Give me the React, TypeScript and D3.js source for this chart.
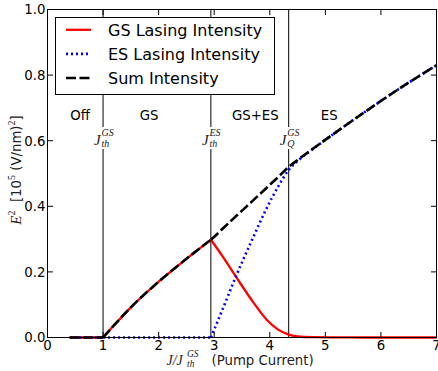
import React from 'react';
import * as d3 from 'd3';

// Pump current J/J_th^GS sample points
const J = [0.4, 1.0, 1.25, 1.5, 2.0, 2.5, 2.94, 3.05, 3.16, 3.4, 3.7, 3.94, 4.15, 4.34, 4.5, 4.78, 5.2, 5.68, 6.28, 7.0];
const gsIntensity = [0, 0, 0.047, 0.092, 0.17, 0.24, 0.298, 0.272, 0.245, 0.183, 0.108, 0.055, 0.024, 0.009, 0.003, 0.001, 0.0004, 0, 0, 0];
const esIntensity = [0, 0, 0, 0, 0, 0, 0, 0.045, 0.09, 0.19, 0.305, 0.393, 0.46, 0.511, 0.538, 0.575, 0.627, 0.684, 0.753, 0.83];
const sumIntensity = [0, 0, 0.047, 0.092, 0.17, 0.24, 0.298, 0.315, 0.333, 0.371, 0.418, 0.456, 0.489, 0.52, 0.541, 0.576, 0.627, 0.684, 0.753, 0.83];
const kinkIndex = [0, 1, 6, J.length - 1];

const xTicks = [0, 1, 2, 3, 4, 5, 6, 7];
const yTicks = [0, 0.2, 0.4, 0.6, 0.8, 1.0];
const yTickLabels = ['0.0', '0.2', '0.4', '0.6', '0.8', '1.0'];

const thresholdJ = [1.0, 2.94, 4.34];
const thresholdSub = ['th', 'th', 'Q'];
const thresholdSup = ['GS', 'ES', 'GS'];

const regionNames = ['Off', 'GS', 'GS+ES', 'ES'];
const regionJ = [0.585, 1.83, 3.74, 5.07];

const legendNames = ['GS Lasing Intensity', 'ES Lasing Intensity', 'Sum Intensity'];

const W = 438;
const H = 371;
const SANS = 'DejaVu Sans, sans-serif';
const SERIF = 'Liberation Serif, DejaVu Serif, serif';

const styles = [
  { stroke: '#ff0000', dash: undefined as string | undefined, width: 2.3 },
  { stroke: '#0000ff', dash: '2 3', width: 2.6 },
  { stroke: '#000000', dash: '10 3.5', width: 2.6 },
];

export default function App() {
  const x = d3.scaleLinear().domain([0, 7]).range([47.5, 436.5]);
  const y = d3.scaleLinear().domain([0, 1]).range([337.5, 9.5]);
  const gen = d3.line<[number, number]>().curve(d3.curveMonotoneX);

  const pathFor = (vals: number[]) => {
    const pts: [number, number][] = J.map((j, i) => [x(j), y(vals[i])]);
    let d = '';
    for (let k = 0; k < kinkIndex.length - 1; k++) {
      d += gen(pts.slice(kinkIndex[k], kinkIndex[k + 1] + 1)) || '';
    }
    return d;
  };

  const series = [gsIntensity, esIntensity, sumIntensity];
  const [x0, x1] = x.range();
  const [yb, yt] = y.range();
  const tick = 5.5;

  return (
    <svg width={W} height={H} style={{ position: 'absolute', left: 0, top: 0, background: '#fff' }}>
      <rect x={0} y={0} width={W} height={H} fill="#fff" />
      {/* threshold vertical lines */}
      {thresholdJ.map((t, i) => (
        <line key={'v' + i} x1={x(t)} x2={x(t)} y1={yt} y2={yb} stroke="#000" strokeWidth={1} />
      ))}
      {/* threshold labels with white background */}
      {thresholdJ.map((t, i) => {
        const lx = x(t) - 9;
        return (
          <g key={'tl' + i}>
            <rect x={lx - 1} y={127} width={26} height={22} fill="#fff" />
            <text x={lx} y={145} fontFamily={SERIF} fontStyle="italic" fontSize={15} fill="#222">J</text>
            <text x={lx + 7.5} y={136} fontFamily={SERIF} fontStyle="italic" fontSize={10} fill="#222">{thresholdSup[i]}</text>
            <text x={lx + 7.5} y={147} fontFamily={SERIF} fontStyle="italic" fontSize={10} fill="#222">{thresholdSub[i]}</text>
          </g>
        );
      })}
      {/* region labels */}
      {regionNames.map((r, i) => (
        <text key={'r' + i} x={x(regionJ[i])} y={120} textAnchor="middle" fontFamily={SANS} fontSize={13.3} fill="#000">{r}</text>
      ))}
      {/* series */}
      {series.map((s, i) => (
        <path key={'s' + i} d={pathFor(s)} fill="none" stroke={styles[i].stroke} strokeWidth={styles[i].width}
          strokeDasharray={styles[i].dash} strokeLinejoin="round" />
      ))}
      {/* frame */}
      <rect x={x0} y={yt} width={x1 - x0} height={yb - yt} fill="none" stroke="#000" strokeWidth={1} />
      {/* ticks */}
      {xTicks.map((t) => (
        <g key={'xt' + t}>
          <line x1={x(t)} x2={x(t)} y1={yb} y2={yb - tick} stroke="#000" />
          <line x1={x(t)} x2={x(t)} y1={yt} y2={yt + tick} stroke="#000" />
          <text x={x(t)} y={350} textAnchor="middle" fontFamily={SANS} fontSize={13.3}>{t}</text>
        </g>
      ))}
      {yTicks.map((t, i) => (
        <g key={'yt' + i}>
          <line x1={x0} x2={x0 + tick} y1={y(t)} y2={y(t)} stroke="#000" />
          <line x1={x1} x2={x1 - tick} y1={y(t)} y2={y(t)} stroke="#000" />
          <text x={45.5} y={y(t) + 4.8} textAnchor="end" fontFamily={SANS} fontSize={13.3}>{yTickLabels[i]}</text>
        </g>
      ))}
      {/* legend */}
      <rect x={55.5} y={17.5} width={219} height={77} fill="#fff" stroke="#000" strokeWidth={1} />
      {legendNames.map((n, i) => {
        const by = 35.8 + i * 24.1;
        return (
          <g key={'lg' + i}>
            <line x1={66} x2={91} y1={by - 6} y2={by - 6} stroke={styles[i].stroke} strokeWidth={styles[i].width}
              strokeDasharray={styles[i].dash} />
            <text x={108} y={by} fontFamily={SANS} fontSize={16}>{n}</text>
          </g>
        );
      })}
      {/* x label */}
      <g fill="#222">
        <text x={166.5} y={364.5} fontFamily={SERIF} fontStyle="italic" fontSize={14}>J/J</text>
        <text x={187} y={357} fontFamily={SERIF} fontStyle="italic" fontSize={9.5}>GS</text>
        <text x={187} y={367} fontFamily={SERIF} fontStyle="italic" fontSize={9.5}>th</text>
        <text x={211.5} y={365} fontFamily={SANS} fontSize={13.3}>(Pump Current)</text>
      </g>
      {/* y label */}
      <text transform="translate(20.5,170) rotate(-90)" textAnchor="middle" fontSize={13.3} fill="#222">
        <tspan fontFamily={SERIF} fontStyle="italic" fontSize={15}>E</tspan>
        <tspan fontFamily={SERIF} fontSize={10} dy={-6}>2</tspan>
        <tspan fontFamily={SANS} dy={6}>{'\u00a0\u00a0[10'}</tspan>
        <tspan fontFamily={SERIF} fontSize={10} dy={-6}>5</tspan>
        <tspan fontFamily={SANS} dy={6}>{'\u00a0(V/nm)'}</tspan>
        <tspan fontFamily={SERIF} fontSize={10} dy={-6}>2</tspan>
        <tspan fontFamily={SANS} dy={6}>]</tspan>
      </text>
    </svg>
  );
}
